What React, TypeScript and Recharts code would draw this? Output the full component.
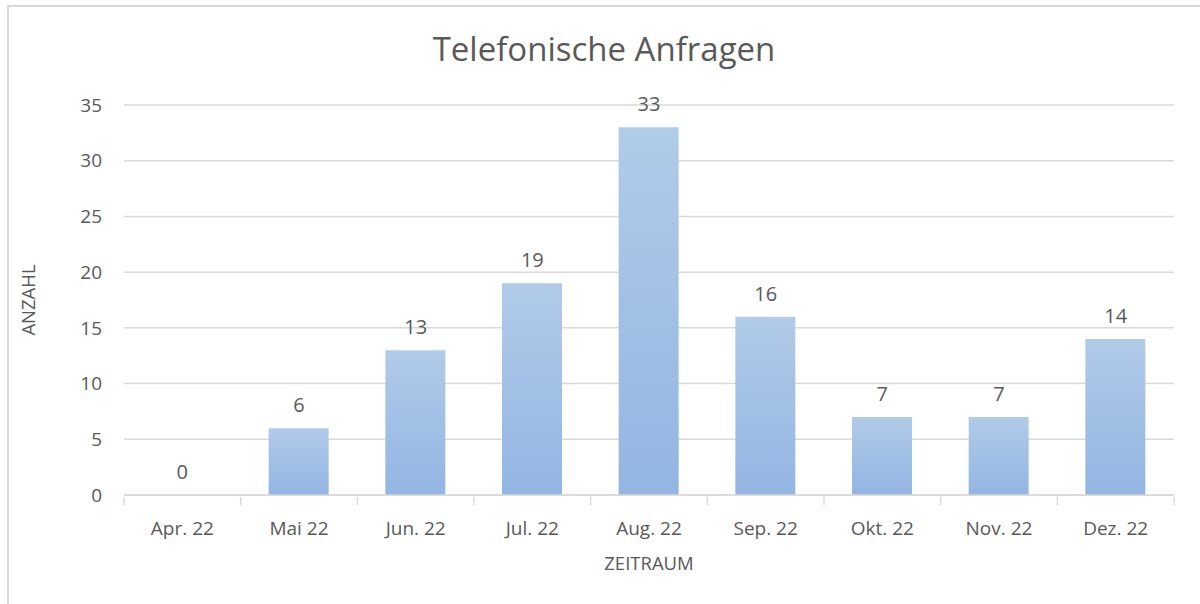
import React from "react"
import { ComposedChart, Bar, Line, XAxis, YAxis, CartesianGrid, LabelList, Label } from "recharts"

const months = ["Apr. 22", "Mai 22", "Jun. 22", "Jul. 22", "Aug. 22", "Sep. 22", "Okt. 22", "Nov. 22", "Dez. 22"]
const anfragen = [0, 6, 13, 19, 33, 16, 7, 7, 14]
const yTicks = [0, 5, 10, 15, 20, 25, 30, 35]

const data = months.map((m, i) => ({ month: m, anzahl: anfragen[i] }))

const TEXT = "#595959"
const GRID = "#d9d9d9"
const FONT = "'Open Sans', sans-serif"

const PLOT_LEFT = 124
const PLOT_RIGHT = 1174

// category ticks with marks on the band edges, like the original
function MonthTick(props: any) {
  const { x, y, payload, index } = props
  const step = (PLOT_RIGHT - PLOT_LEFT) / months.length
  return (
    <g>
      <line x1={x - step / 2} x2={x - step / 2} y1={y - 8} y2={y} stroke={GRID} strokeWidth={1.5} />
      {index === months.length - 1 && (
        <line x1={x + step / 2} x2={x + step / 2} y1={y - 8} y2={y} stroke={GRID} strokeWidth={1.5} />
      )}
      <text x={x} y={y + 30} textAnchor="middle" fill={TEXT} fontSize={19} fontFamily={FONT}>
        {payload.value}
      </text>
    </g>
  )
}

export default function App() {
  return (
    <div style={{ position: "absolute", left: 0, top: 0, width: 1200, height: 604, overflow: "hidden", background: "#fff" }}>
      <div style={{ position: "absolute", left: 7, top: 5, width: 1300, height: 700, border: `2px solid ${GRID}` }} />
      <div style={{ position: "absolute", left: 0, top: 27, width: 1208, textAlign: "center", fontFamily: FONT, fontSize: 33, color: TEXT, lineHeight: "44px" }}>
        Telefonische Anfragen
      </div>
      <div style={{ position: "absolute", left: 0, top: 0 }}>
        <ComposedChart
          width={1200}
          height={604}
          data={data}
          margin={{ top: 105, right: 1200 - PLOT_RIGHT, bottom: 30, left: 0 }}
        >
          <defs>
            <linearGradient id="barFill" x1="0" y1="0" x2="0" y2="1">
              <stop offset="0%" stopColor="#b1cbe9" />
              <stop offset="100%" stopColor="#92b5e2" />
            </linearGradient>
          </defs>
          <CartesianGrid vertical={false} stroke={GRID} strokeWidth={1.5} />
          <XAxis
            dataKey="month"
            height={79}
            axisLine={{ stroke: GRID, strokeWidth: 1.5 }}
            tickLine={false}
            tickSize={8}
            tick={<MonthTick />}
            interval={0}
          >
            <Label value="ZEITRAUM" position="insideBottom" offset={4} fill={TEXT} fontSize={18.5} fontFamily={FONT} />
          </XAxis>
          <YAxis
            width={PLOT_LEFT}
            domain={[0, 35]}
            ticks={yTicks}
            axisLine={false}
            tickLine={false}
            tickSize={0}
            tickMargin={22}
            tick={{ fill: TEXT, fontSize: 19, fontFamily: FONT }}
          >
            <Label value="ANZAHL" angle={-90} position="insideLeft" offset={28} fill={TEXT} fontSize={18.5} fontFamily={FONT} style={{ textAnchor: "middle" }} />
          </YAxis>
          <Bar dataKey="anzahl" fill="url(#barFill)" barSize={60} isAnimationActive={false} />
          {/* invisible carrier for the value labels, so the zero month gets its label too */}
          <Line dataKey="anzahl" stroke="none" dot={false} activeDot={false} legendType="none" isAnimationActive={false}>
            <LabelList dataKey="anzahl" position="top" offset={16} fill={TEXT} fontSize={20} fontFamily={FONT} />
          </Line>
        </ComposedChart>
      </div>
    </div>
  )
}
